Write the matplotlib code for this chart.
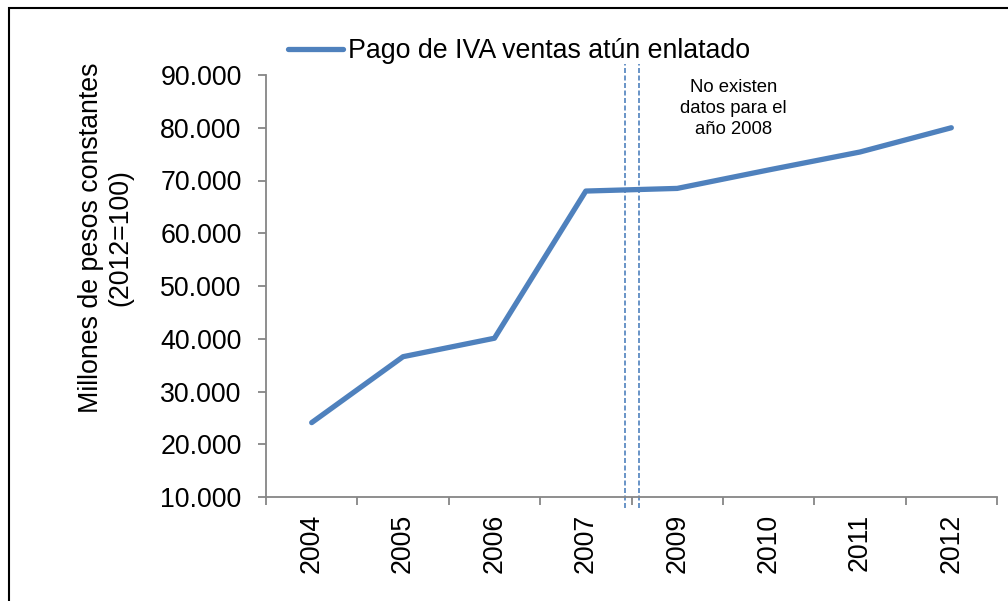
import matplotlib.pyplot as plt
from matplotlib.patches import Rectangle
from matplotlib.ticker import FuncFormatter, FixedLocator

plt.rcParams['font.family'] = ['Liberation Sans', 'DejaVu Sans']

# datos: pago de IVA por ventas de atún enlatado (sin 2008)
years = ['2004', '2005', '2006', '2007', '2009', '2010', '2011', '2012']
iva = [24100, 36600, 40100, 68000, 68500, 72000, 75400, 80000]

blue = '#4F81BD'
gray = '#868686'
fs = 19.3

fig = plt.figure(figsize=(10.08, 6.01), dpi=100)
ax = fig.add_axes([266 / 1008, 1 - 497 / 601, 731 / 1008, 422 / 601])

x = list(range(len(years)))
ax.plot(x, iva, color=blue, lw=3.8, solid_capstyle='round', solid_joinstyle='round',
        label='Pago de IVA ventas atún enlatado')

# hueco del 2008
for xv in (3.427, 3.577):
    ax.plot([xv, xv], [8000, 92000], color=blue, lw=1.2, ls=(0, (3, 1.5)), clip_on=False)

ax.text(4.615, 83700, 'No existen\ndatos para el\naño 2008', ha='center', va='center',
        fontsize=13.3, linespacing=1.3)

ax.set_xlim(-0.5, 7.5)
ax.set_ylim(10000, 90000)
ax.set_yticks(range(10000, 90001, 10000))
ax.yaxis.set_major_formatter(FuncFormatter(lambda v, p: f'{int(v):,}'.replace(',', '.')))

ax.xaxis.set_major_locator(FixedLocator([i - 0.5 for i in range(len(years) + 1)]))
ax.xaxis.set_major_formatter(FuncFormatter(lambda v, p: ''))
ax.xaxis.set_minor_locator(FixedLocator(x))
ax.set_xticklabels(years, minor=True, rotation=90)
ax.tick_params(axis='x', which='minor', length=0, pad=12, labelsize=fs)
ax.tick_params(axis='x', which='major', length=5.5, width=1.3, color=gray, direction='out')
ax.tick_params(axis='y', length=5.5, width=1.3, color=gray, direction='out', pad=12, labelsize=fs)

for s in ('top', 'right'):
    ax.spines[s].set_visible(False)
for s in ('left', 'bottom'):
    ax.spines[s].set_color(gray)
    ax.spines[s].set_linewidth(1.3)

ax.set_ylabel('Millones de pesos constantes\n(2012=100)', fontsize=fs, linespacing=1.15)
ax.yaxis.set_label_coords(-0.182, 0.615)

ax.legend(loc='center left', bbox_to_anchor=(288 / 1008, 1 - 51 / 601),
          bbox_transform=fig.transFigure, frameon=False, fontsize=fs,
          handlelength=2.05, handletextpad=0.18, borderpad=0, borderaxespad=0)

# marco exterior
fig.add_artist(Rectangle((9 / 1008, -0.1), 1.2, 1.1 - 8 / 601, transform=fig.transFigure,
                         fill=False, edgecolor='black', lw=1.5))

fig.savefig('out.png', dpi=100)
